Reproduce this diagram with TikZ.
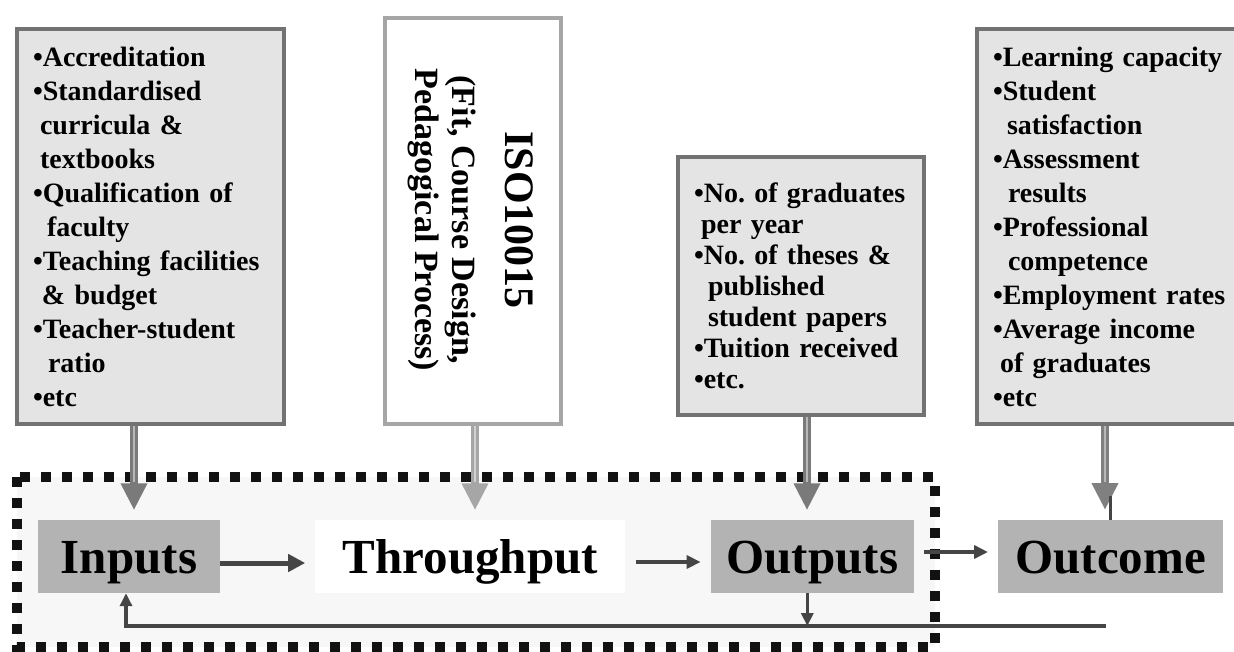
\documentclass[tikz,border=0pt]{standalone}
\usepackage{fontspec}
\setmainfont{Liberation Serif}
\usepackage{tikz}
\usetikzlibrary{arrows.meta,positioning,calc}
\definecolor{stagegray}{HTML}{B3B3B3}
\definecolor{listfill}{HTML}{E4E4E4}
\definecolor{listedge}{HTML}{727272}
\definecolor{isoedge}{HTML}{A6A6A6}
\definecolor{darkarrow}{HTML}{454545}
\definecolor{zonefill}{HTML}{F7F7F7}
\frenchspacing
\hyphenpenalty=10000

% thick grey arrow with a light stripe
\newcommand{\feedarrow}[4]{%
  \draw[line width=8pt, draw=#1, -{Triangle[length=27pt,width=25pt]}] #3 -- ++(0,#4);
  \draw[line width=2pt, draw=#2] #3 -- ++(0,{#4-28});
}

\tikzset{
  listbox/.style={draw=listedge, line width=4.5pt, fill=listfill, align=left,
    inner xsep=16pt, inner ysep=0pt, font=\fontsize{28}{34}\selectfont\bfseries},
  stage/.style={fill=stagegray, minimum height=73pt, inner sep=0pt,
    text height=33pt, text depth=0pt, font=\fontsize{49}{52}\selectfont\bfseries},
  flow/.style={draw=darkarrow, line width=4pt, -{Triangle[length=14pt,width=13pt]}},
}

\begin{document}
\begin{tikzpicture}[x=1pt, y=-1pt]
\useasboundingbox (0,0) rectangle (1234,651);
\clip (0,0) rectangle (1234,651);

% --- dotted zone ---
\draw[line width=10pt, draw=black!93, dash pattern=on 10pt off 11pt, fill=zonefill]
  (17,477) rectangle (935,647);

% --- upper boxes ---
\node[listbox, text width=235pt, minimum height=395pt] (inlist) at (150.5,226.5) {%
  •Accreditation\\
  •Standardised\\
  \hspace*{7pt}curricula \&\\
  \hspace*{7pt}textbooks\\
  •Qualification of\\
  \hspace*{14pt}faculty\\
  •Teaching facilities\\
  \hspace*{9pt}\& budget\\
  •Teacher-student\\
  \hspace*{15pt}ratio\\
  •etc};

\node[draw=isoedge, line width=4.5pt, fill=white, minimum width=176pt,
  minimum height=406pt] (iso) at (473,221) {};
\node[rotate=-90, align=center, font=\fontsize{34}{37}\selectfont\bfseries]
  (isotext) at (471,220) {{\fontsize{42}{42}\selectfont ISO10015}\\[16pt]
  (Fit, Course Design,\\
  Pedagogical Process)};

\node[listbox, text width=214pt, minimum height=258pt,
  font=\fontsize{28}{31}\selectfont\bfseries] (outlist) at (801,286) {%
  •No. of graduates\\
  \hspace*{7pt}per year\\
  •No. of theses \&\\
  \hspace*{14pt}published\\
  \hspace*{14pt}student papers\\
  •Tuition received\\
  •etc.};

\node[listbox, text width=238pt, minimum height=395pt] (endlist) at (1112,226.5) {%
  •Learning capacity\\
  •Student\\
  \hspace*{14pt}satisfaction\\
  •Assessment\\
  \hspace*{15pt}results\\
  •Professional\\
  \hspace*{15pt}competence\\
  •Employment rates\\
  •Average income\\
  \hspace*{7pt}of graduates\\
  •etc};

% --- stages ---
\node[stage, minimum width=182pt] (inputs) at (129,556.5) {Inputs};
\node[stage, fill=white, minimum width=310pt, right=95pt of inputs] (through) {Throughput};
\node[stage, minimum width=203pt, right=85pt of through] (outputs) {Outputs};
\node[stage, minimum width=225pt, right=84pt of outputs] (outcome) {Outcome};

% --- grey arrows down ---
\feedarrow{black!52}{black!28}{([xshift=-16.5pt]inlist.south)}{84}
\feedarrow{isoedge}{black!18}{([xshift=2pt]iso.south)}{84}
\feedarrow{black!52}{black!28}{([xshift=6pt]outlist.south)}{93}
\feedarrow{black!50}{black!28}{(1105,426)}{84}
\draw[line width=3pt, draw=darkarrow] (outcome.north) -- ++(0,-24);

% --- flow ---
\draw[flow, line width=5pt, -{Triangle[length=17pt,width=17pt]}, shorten >=10pt]
  ([yshift=-6.5pt]inputs.east) -- ([yshift=-6.5pt]inputs.east -| through.west);
\draw[flow, shorten <=10pt, shorten >=10pt]
  ([yshift=-5.5pt]through.east) -- ([yshift=-5.5pt]through.east -| outputs.west);
\draw[flow, shorten <=10pt, shorten >=10pt]
  ([yshift=4.5pt]outputs.east) -- ([yshift=4.5pt]outputs.east -| outcome.west);

% --- feedback ---
\coordinate (fbend) at (1106,626);
\draw[flow, line width=3.5pt, -{Triangle[length=13pt,width=12pt]}]
  (fbend) -| ([xshift=-3pt]inputs.south);
\draw[flow, line width=3.5pt, -{Triangle[length=13pt,width=12pt]}]
  ([xshift=-5pt]outputs.south) -- ([xshift=-5pt]outputs.south |- fbend);
\end{tikzpicture}
\end{document}
